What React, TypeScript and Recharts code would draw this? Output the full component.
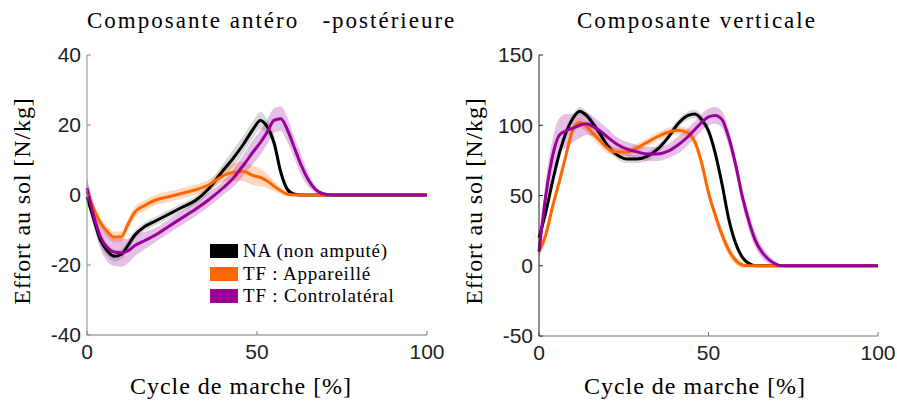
import React from 'react';
import { ComposedChart, Line, Area, XAxis, YAxis } from 'recharts';

// --- Composante antéro-postérieure ---
const apX = [0, 2, 4, 6, 8, 10, 12, 14, 17, 20, 24, 28, 32, 36, 40, 43, 46, 49, 51, 53, 55, 57, 59, 61, 63, 65, 67, 69, 72, 80, 90, 100];
const apNA = [-0.5, -7, -13, -16, -17.5, -17, -14.5, -11.5, -9, -7.5, -5.5, -3.5, -1.5, 2, 7, 10.5, 14.5, 19, 21.3, 19.5, 15, 6.5, 1.5, 0.2, 0, 0, 0, 0, 0, 0, 0, 0];
const apNASd = [1.5, 1.5, 1.5, 1.5, 1.5, 1.5, 1.5, 1.2, 1.2, 1.2, 1.2, 1.2, 1.2, 1.5, 2, 2.5, 2.5, 2.5, 2.5, 2, 2, 1.5, 1, 0.5, 0.3, 0.2, 0.2, 0.2, 0.2, 0.2, 0.2, 0.2];
const apTF = [1, -4, -8, -10.5, -12, -12, -8.5, -5, -3, -1.5, -0.5, 0.5, 1.5, 3, 5.5, 6.5, 6.7, 5.5, 5, 4, 2.5, 1.2, 0.2, 0, 0, 0, 0, 0, 0, 0, 0, 0];
const apTFSd = [3, 2, 1.5, 1.5, 1.5, 1.5, 1.5, 1.5, 1.5, 1.5, 1.5, 1.5, 1.5, 1.5, 1.8, 2.5, 2.8, 2.8, 2.5, 2, 1.5, 1, 0.5, 0.3, 0.2, 0.2, 0.2, 0.2, 0.2, 0.2, 0.2, 0.2];
const apCL = [2, -6, -12, -15, -16.3, -16.5, -16, -14.5, -13, -11.5, -9, -6.5, -4, -1.2, 2, 4.8, 8.5, 12.5, 15, 18, 21.3, 21.8, 18.5, 13.5, 8.5, 4.5, 1.8, 0.5, 0, 0, 0, 0];
const apCLSd = [3, 3, 3.5, 4, 4, 4, 3.5, 3, 2.5, 2, 2, 2, 2, 2, 2, 2.5, 3, 3.5, 3.5, 3.5, 3.5, 3.5, 3.5, 3, 3, 2, 1, 0.5, 0.3, 0.2, 0.2, 0.2];

// --- Composante verticale ---
const vX = [0, 2, 4, 6, 8, 10, 12, 14, 16, 18, 20, 23, 26, 29, 32, 35, 38, 41, 44, 46, 48, 50, 52, 54, 56, 58, 60, 62, 64, 66, 68, 70, 72, 80, 90, 100];
const vNA = [20, 38, 60, 80, 95, 105, 110, 107, 101, 94, 86, 79, 76, 76, 78, 83, 91, 101, 107, 108, 104, 96, 80, 58, 33, 16, 6, 1.5, 0, 0, 0, 0, 0, 0, 0, 0];
const vNASd = [3, 3, 3, 3, 3, 3, 3, 3, 3, 3, 3, 3, 3, 3, 3, 3, 3, 3, 3, 3, 3, 3, 3, 3, 3, 3, 2, 1, 0.5, 0.3, 0.3, 0.3, 0.3, 0.3, 0.3, 0.3];
const vTF = [10, 22, 42, 60, 79, 97, 102, 99, 94, 89, 84, 81, 81, 84, 88, 92, 95, 96.5, 94.5, 88, 73, 52, 36, 22, 11, 4, 0.5, 0, 0, 0, 0, 0, 0, 0, 0, 0];
const vTFSd = [4, 4, 4, 4, 4, 4, 4, 4, 4, 4, 4, 3, 3, 3, 3, 3, 3, 3, 3, 4, 4, 4, 4, 4, 4, 3, 2, 1, 0.5, 0.3, 0.3, 0.3, 0.3, 0.3, 0.3, 0.3];
const vCL = [10, 50, 78, 93, 96, 98, 100, 101, 99, 96, 92, 86.5, 83, 81, 79.5, 79.5, 81.5, 86, 92, 97, 102, 106, 107, 104, 91, 72, 49, 31, 17, 9, 4, 1, 0, 0, 0, 0];
const vCLSd = [6, 10, 12, 12, 12, 10, 9, 8, 7, 6, 6, 5, 5, 5, 5, 5, 5, 6, 6, 6, 6, 6, 6, 6, 6, 6, 6, 6, 5, 4, 3, 1.5, 0.5, 0.3, 0.3, 0.3];

const legendItems = ['NA (non amputé)', 'TF : Appareillé', 'TF : Controlatéral'];
const colors = ['#000000', '#ff6600', '#990099'];

const buildRows = (x: number[], series: number[][], sds: number[][]) =>
  x.map((xv, i) => {
    const row: any = { x: xv };
    series.forEach((s, k) => {
      row['m' + k] = s[i];
      row['b' + k] = [s[i] - sds[k][i], s[i] + sds[k][i]];
    });
    return row;
  });

const apData = buildRows(apX, [apNA, apTF, apCL], [apNASd, apTFSd, apCLSd]);
const vData = buildRows(vX, [vNA, vTF, vCL], [vNASd, vTFSd, vCLSd]);

const serif = '"Liberation Serif", "Times New Roman", serif';
const sans = '"Liberation Sans", Arial, sans-serif';
const tickStyle = { fontFamily: sans, fontSize: 21, fill: '#222' };

interface PanelProps {
  data: any[];
  width: number;
  margin: { top: number; left: number; right: number; bottom: number };
  domain: [number, number];
  ticks: number[];
  yAxisColor: string;
}

const Panel: React.FC<PanelProps> = ({ data, width, margin, domain, ticks, yAxisColor }) => (
  <ComposedChart width={width} height={403} data={data} margin={margin}>
    <XAxis
      type="number"
      dataKey="x"
      domain={[0, 100]}
      ticks={[0, 50, 100]}
      height={30}
      tickSize={-4}
      tickMargin={13}
      axisLine={{ stroke: '#777' }}
      tickLine={{ stroke: '#777' }}
      tick={tickStyle}
    />
    <YAxis
      type="number"
      domain={domain}
      ticks={ticks}
      width={60}
      tickSize={-4}
      tickMargin={10}
      axisLine={{ stroke: yAxisColor }}
      tickLine={{ stroke: yAxisColor }}
      tick={tickStyle}
    />
    {[0, 1, 2].map((k) => (
      <Area
        key={'b' + k}
        type="monotone"
        dataKey={'b' + k}
        stroke="none"
        fill={colors[k]}
        fillOpacity={k === 0 ? 0.15 : 0.25}
        isAnimationActive={false}
      />
    ))}
    {[0, 1, 2].map((k) => (
      <Line
        key={'m' + k}
        type="monotone"
        dataKey={'m' + k}
        stroke={colors[k]}
        strokeWidth={3}
        dot={false}
        activeDot={false}
        isAnimationActive={false}
      />
    ))}
  </ComposedChart>
);

const abs = (left: number, top: number): React.CSSProperties => ({ position: 'absolute', left, top });

const titleStyle: React.CSSProperties = {
  fontFamily: serif,
  fontSize: 23,
  letterSpacing: 2,
  whiteSpace: 'pre',
  color: '#000',
  lineHeight: '28px',
};

export default function App() {
  return (
    <div style={{ position: 'absolute', left: 0, top: 0, width: 897, height: 403, background: '#fff', overflow: 'hidden' }}>
      <div style={abs(0, 0)}>
        <Panel
          data={apData}
          width={450}
          margin={{ top: 55, left: 27, right: 23, bottom: 38 }}
          domain={[-40, 40]}
          ticks={[-40, -20, 0, 20, 40]}
          yAxisColor="#888"
        />
      </div>
      <div style={abs(450, 0)}>
        <Panel
          data={vData}
          width={447}
          margin={{ top: 55, left: 29, right: 19, bottom: 37 }}
          domain={[-50, 150]}
          ticks={[-50, 0, 50, 100, 150]}
          yAxisColor="#222"
        />
      </div>

      {/* titles */}
      <div style={{ ...titleStyle, ...abs(87, 7) }}>{'Composante antéro   -postérieure'}</div>
      <div style={{ ...titleStyle, ...abs(577, 7) }}>Composante verticale</div>

      {/* axis labels */}
      {[22, 474].map((cx) => (
        <div
          key={cx}
          style={{
            position: 'absolute',
            left: cx - 150,
            top: 201 - 14,
            width: 300,
            height: 28,
            lineHeight: '28px',
            textAlign: 'center',
            transform: 'rotate(-90deg)',
            fontFamily: serif,
            fontSize: 24,
            letterSpacing: 0.9,
            color: '#000',
          }}
        >
          Effort au sol [N/kg]
        </div>
      ))}
      {[241, 695].map((cx) => (
        <div
          key={cx}
          style={{
            position: 'absolute',
            left: cx - 150,
            top: 372,
            width: 300,
            lineHeight: '28px',
            textAlign: 'center',
            fontFamily: serif,
            fontSize: 24,
            letterSpacing: 1,
            color: '#000',
          }}
        >
          Cycle de marche [%]
        </div>
      ))}

      {/* legend */}
      {legendItems.map((name, k) => (
        <div key={name} style={{ ...abs(210, 243 + k * 22.5), display: 'flex', alignItems: 'center', height: 16 }}>
          <div style={{ width: 28, height: 14, background: colors[k] }} />
          <span style={{ marginLeft: 5, fontFamily: serif, fontSize: 19, letterSpacing: 0.8, color: '#000', whiteSpace: 'pre' }}>
            {name}
          </span>
        </div>
      ))}
    </div>
  );
}
